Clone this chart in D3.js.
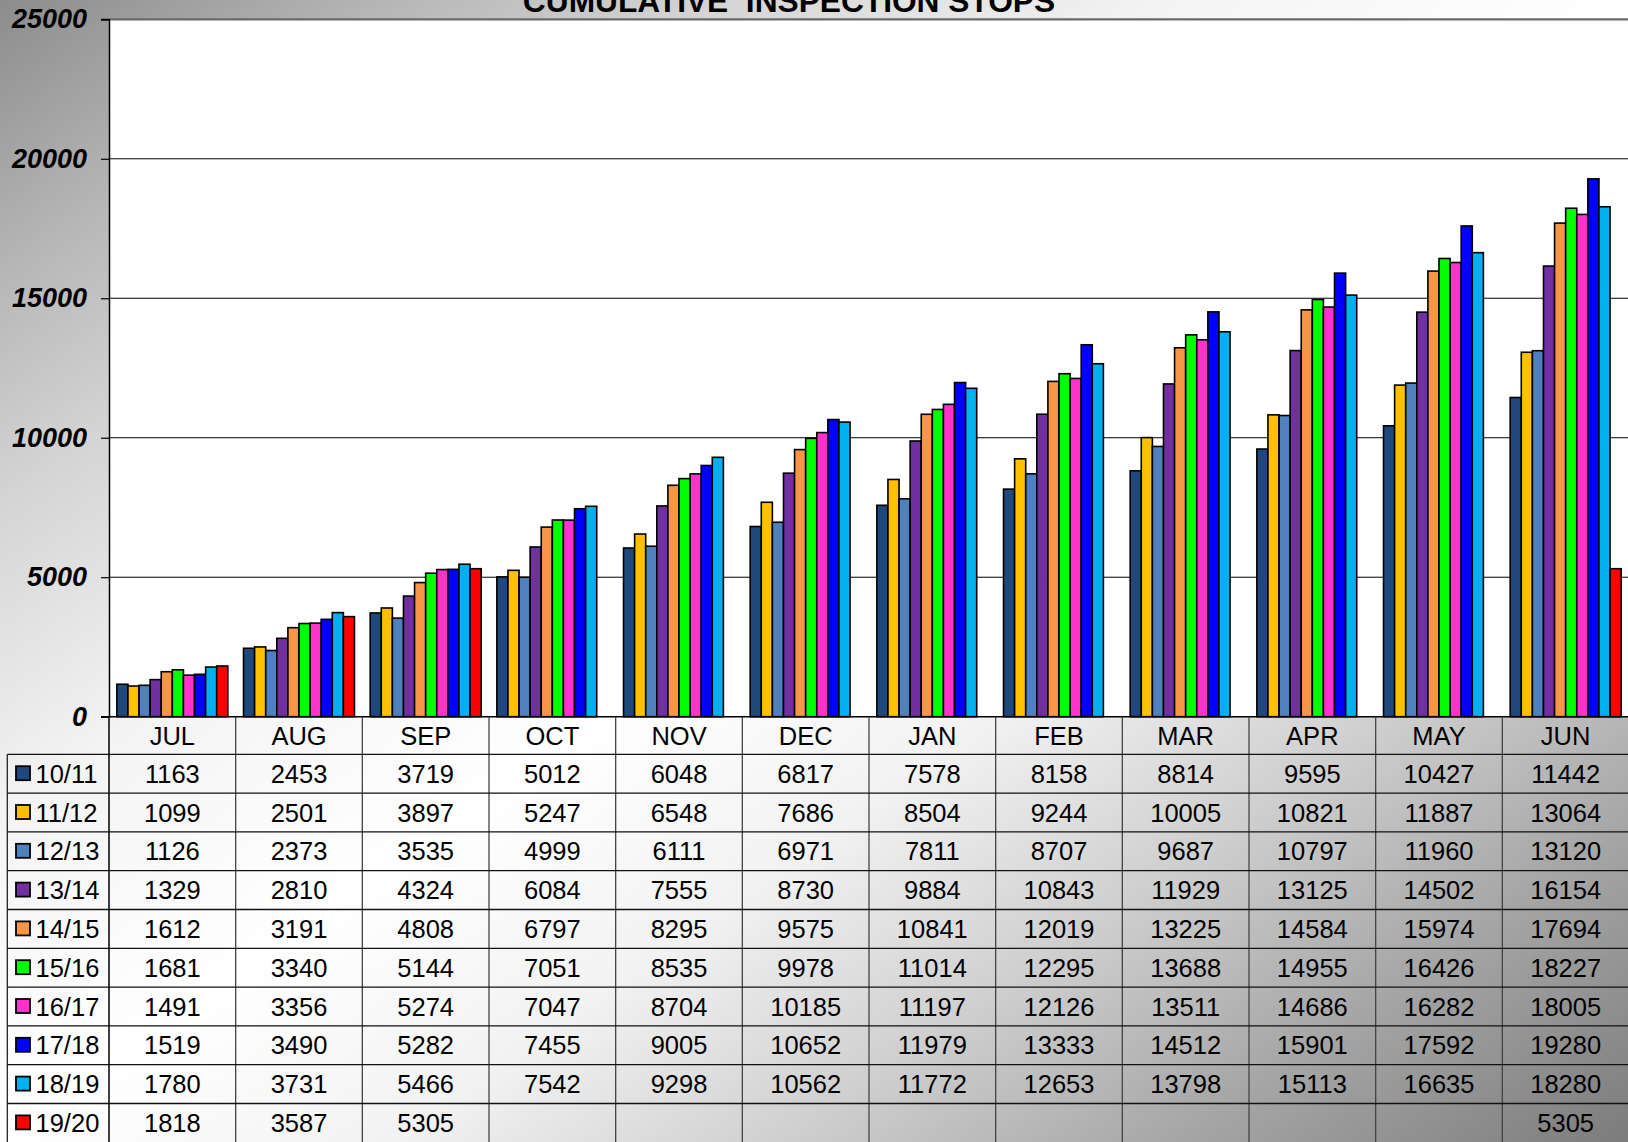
<!DOCTYPE html>
<html>
<head>
<meta charset="utf-8">
<script src="https://cdn.jsdelivr.net/npm/d3@7"></script>
<style>
  html, body { margin: 0; padding: 0; background: #fff; overflow: hidden; }
  svg { display: block; font-family: "Liberation Sans", Arial, sans-serif; }
</style>
</head>
<body>
<svg id="chart" width="1628" height="1142"></svg>
<script>
// ---------- data ----------
const months = ["JUL","AUG","SEP","OCT","NOV","DEC","JAN","FEB","MAR","APR","MAY","JUN"];
const seriesNames = ["10/11","11/12","12/13","13/14","14/15","15/16","16/17","17/18","18/19","19/20"];
const seriesColors = ["#1F497D","#FFC000","#4F81BD","#7030A0","#F79646","#00FF00","#FF33CC","#0000FF","#00B0F0","#FF0000"];
const s1011 = [1163,2453,3719,5012,6048,6817,7578,8158,8814,9595,10427,11442];
const s1112 = [1099,2501,3897,5247,6548,7686,8504,9244,10005,10821,11887,13064];
const s1213 = [1126,2373,3535,4999,6111,6971,7811,8707,9687,10797,11960,13120];
const s1314 = [1329,2810,4324,6084,7555,8730,9884,10843,11929,13125,14502,16154];
const s1415 = [1612,3191,4808,6797,8295,9575,10841,12019,13225,14584,15974,17694];
const s1516 = [1681,3340,5144,7051,8535,9978,11014,12295,13688,14955,16426,18227];
const s1617 = [1491,3356,5274,7047,8704,10185,11197,12126,13511,14686,16282,18005];
const s1718 = [1519,3490,5282,7455,9005,10652,11979,13333,14512,15901,17592,19280];
const s1819 = [1780,3731,5466,7542,9298,10562,11772,12653,13798,15113,16635,18280];
const s1920 = [1818,3587,5305,null,null,null,null,null,null,null,null,5305];
const seriesValues = [s1011,s1112,s1213,s1314,s1415,s1516,s1617,s1718,s1819,s1920];
const yTicks = [0,5000,10000,15000,20000,25000];
const title = "CUMULATIVE  INSPECTION STOPS";

// ---------- layout ----------
const W = 1628, H = 1142;
const plotL = 109, plotR = 1629, plotT = 19.3, plotB = 716.7;
const headerB = 754.3, rowH = 38.8, tableL = 7.3;
const fontTable = 25.5;

const svg = d3.select("#chart");
const defs = svg.append("defs");
const grad = defs.append("linearGradient").attr("id","bg")
  .attr("x1",0).attr("y1",0).attr("x2",1).attr("y2",1);
[[0,"#8c8c8c"],[0.12,"#b6b6b6"],[0.22,"#d4d4d4"],[0.36,"#f4f4f4"],[0.5,"#ffffff"],
 [0.62,"#f2f2f2"],[0.74,"#cfcfcf"],[0.86,"#a6a6a6"],[1,"#7c7c7c"]]
  .forEach(([o,c]) => grad.append("stop").attr("offset",o).attr("stop-color",c));

svg.append("rect").attr("width",W).attr("height",H).attr("fill","url(#bg)");

// scales
const x0 = d3.scaleBand().domain(months).range([plotL, plotR]).paddingInner(0.124).paddingOuter(0.062);
const x1 = d3.scaleBand().domain(seriesNames).range([0, x0.bandwidth()]);
const y = d3.scaleLinear().domain([0,25000]).range([plotB, plotT]);
const step = x0.step();
const colLeft = m => plotL + months.indexOf(m) * step;

// plot area
svg.append("rect").attr("x",plotL).attr("y",plotT).attr("width",plotR-plotL).attr("height",plotB-plotT).attr("fill","#fff");

// gridlines
svg.append("g").selectAll("line").data(yTicks.filter(t => t>0 && t<25000)).join("line")
  .attr("x1",plotL).attr("x2",plotR).attr("y1",d=>y(d)).attr("y2",d=>y(d))
  .attr("stroke","#000").attr("stroke-width",1);
svg.append("line").attr("x1",plotL-8).attr("x2",plotR).attr("y1",y(25000)).attr("y2",y(25000))
  .attr("stroke","#6a6a6a").attr("stroke-width",2.2);

// bars
const groups = svg.append("g").selectAll("g").data(months).join("g")
  .attr("transform", d => `translate(${x0(d)},0)`);
groups.selectAll("rect")
  .data((m,mi) => seriesNames.map((s,si) => ({s, v: seriesValues[si][mi], c: seriesColors[si]})).filter(d => d.v != null))
  .join("rect")
  .attr("x", d => x1(d.s)).attr("width", x1.bandwidth())
  .attr("y", d => y(d.v)).attr("height", d => y(0) - y(d.v))
  .attr("fill", d => d.c).attr("stroke","#000").attr("stroke-width",1.6);

// y axis
const yAxis = svg.append("g").attr("transform",`translate(${plotL},0)`)
  .call(d3.axisLeft(y).tickValues(yTicks).tickSize(8).tickPadding(14).tickFormat(d3.format("d")));
yAxis.select(".domain").attr("stroke","#000").attr("stroke-width",1.5);
yAxis.selectAll(".tick line").attr("stroke","#000").attr("stroke-width",1.2);
yAxis.selectAll(".tick text").attr("font-family","'Liberation Sans', Arial, sans-serif")
  .attr("font-size",27).attr("font-weight","bold").attr("font-style","italic").attr("fill","#000");

// x axis (category header row)
const xAxis = svg.append("g").attr("transform",`translate(0,${plotB})`)
  .call(d3.axisBottom(x0).tickSize(0).tickPadding(10.5));
xAxis.select(".domain").remove();
xAxis.selectAll(".tick text").attr("font-family","'Liberation Sans', Arial, sans-serif")
  .attr("font-size",fontTable).attr("fill","#000");
svg.append("line").attr("x1",plotL-8).attr("x2",plotR).attr("y1",plotB).attr("y2",plotB)
  .attr("stroke","#000").attr("stroke-width",1.5);

// data table
const table = svg.append("g");
const tableBottom = headerB + rowH * seriesNames.length;
// vertical lines
months.forEach((m,i) => {
  table.append("line").attr("x1",colLeft(m)).attr("x2",colLeft(m)).attr("y1",plotB).attr("y2",tableBottom)
    .attr("stroke", i===0 ? "#000" : "#444").attr("stroke-width", i===0 ? 1.5 : 1.3);
});
table.append("line").attr("x1",tableL).attr("x2",tableL).attr("y1",headerB).attr("y2",tableBottom)
  .attr("stroke","#222").attr("stroke-width",1.3);
// horizontal lines
seriesNames.forEach((s,i) => {
  const yy = headerB + i*rowH;
  table.append("line").attr("x1",tableL).attr("x2",plotR).attr("y1",yy).attr("y2",yy)
    .attr("stroke","#111").attr("stroke-width",1.3);
});
// rows
seriesNames.forEach((s,si) => {
  const cy = headerB + si*rowH + rowH/2;
  table.append("rect").attr("x",16).attr("y",cy-7.5).attr("width",14).attr("height",14)
    .attr("fill",seriesColors[si]).attr("stroke","#000").attr("stroke-width",1.8);
  table.append("text").attr("x",35.5).attr("y",cy + fontTable*0.36)
    .attr("font-size",fontTable).attr("fill","#000").text(s);
  months.forEach((m,mi) => {
    const v = seriesValues[si][mi];
    if (v == null) return;
    table.append("text").attr("x", colLeft(m) + step/2).attr("y", cy + fontTable*0.36)
      .attr("text-anchor","middle").attr("font-size",fontTable).attr("fill","#000").text(v);
  });
});

// title (partially clipped at top)
svg.append("text").attr("x",789).attr("y",11.5).attr("text-anchor","middle")
  .attr("font-size",31.7).attr("font-weight","bold").attr("fill","#000")
  .style("white-space","pre").attr("xml:space","preserve").text(title);
</script>
</body>
</html>
